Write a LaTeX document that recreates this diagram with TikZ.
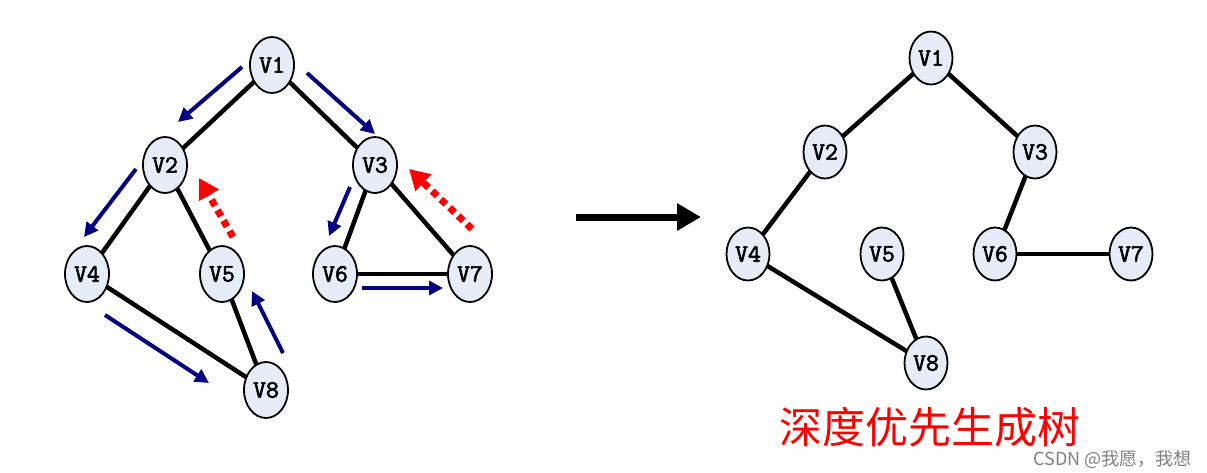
\documentclass[tikz,border=0pt]{standalone}
\usepackage{fontspec}
\newfontfamily\cjkfont{Noto Sans CJK SC}
\newfontfamily\vfont{Latin Modern Mono}[FakeBold=2.5]
\usetikzlibrary{shapes.geometric,arrows.meta}
\definecolor{nodefill}{HTML}{E6EDF8}
\definecolor{navyarrow}{HTML}{000080}
\pgfdeclarelayer{bg}
\pgfsetlayers{bg,main}
\begin{document}
\begin{tikzpicture}[x=1pt,y=-1pt,
  vert/.style={ellipse,draw=black,line width=1.8pt,fill=nodefill,minimum width=44pt,minimum height=56pt,inner sep=0pt,font=\vfont\fontsize{25}{25}\selectfont},
  vertr/.style={vert,minimum width=43pt,minimum height=53pt},
  edge/.style={line width=4.5pt,black},
  bluearr/.style={navyarrow,line width=4pt,-{Triangle[length=14pt,width=14pt]}},
  redarr/.style={red,line width=7pt,dash pattern=on 7pt off 5pt,-{Triangle[length=20pt,width=22pt]}}]
\useasboundingbox (0,0) rectangle (1207,472);
% left graph
\node[vert] (a1) at (272,65) {V1};
\node[vert] (a2) at (165,165) {V2};
\node[vert] (a3) at (375,165) {V3};
\node[vert] (a4) at (87,274) {V4};
\node[vert] (a5) at (222,274) {V5};
\node[vert] (a6) at (335,274) {V6};
\node[vert] (a7) at (470,274) {V7};
\node[vert] (a8) at (266,390) {V8};
\begin{pgfonlayer}{bg}
\draw[edge] (a1.center) -- (a2.center);
\draw[edge] (a1.center) -- (a3.center);
\draw[edge] (a2.center) -- (a4.center);
\draw[edge] (a2.center) -- (a5.center);
\draw[edge] (a3.center) -- (a6.center);
\draw[edge] (a3.center) -- (a7.center);
\draw[edge] (a6.center) -- (a7.center);
\draw[edge] (a4.center) -- (a8.center);
\draw[edge] (a5.center) -- (a8.center);
\end{pgfonlayer}
% traversal arrows
\coordinate (b1s) at (242,67);  \coordinate (b1e) at (178,122);
\coordinate (b2s) at (307,73);  \coordinate (b2e) at (375,134);
\coordinate (b3s) at (136,169); \coordinate (b3e) at (84,237);
\coordinate (b4s) at (350,187); \coordinate (b4e) at (329,236);
\coordinate (b5s) at (362,288); \coordinate (b5e) at (443,288);
\coordinate (b6s) at (105,315); \coordinate (b6e) at (209,383);
\coordinate (b7s) at (283,353); \coordinate (b7e) at (252,291);
\draw[bluearr] (b1s) -- (b1e);
\draw[bluearr] (b2s) -- (b2e);
\draw[bluearr] (b3s) -- (b3e);
\draw[bluearr] (b4s) -- (b4e);
\draw[bluearr] (b5s) -- (b5e);
\draw[bluearr] (b6s) -- (b6e);
\draw[bluearr] (b7s) -- (b7e);
\coordinate (r1s) at (233,237); \coordinate (r1e) at (199,178);
\coordinate (r2s) at (472,229); \coordinate (r2e) at (409,169);
\draw[redarr] (r1s) -- (r1e);
\draw[redarr] (r2s) -- (r2e);
% big arrow
\coordinate (ms) at (576,217); \coordinate (me) at (701,217);
\draw[line width=7pt,-{Triangle[length=24pt,width=26pt]}] (ms) -- (me);
% right graph (spanning tree)
\node[vertr] (c1) at (931,58) {V1};
\node[vertr] (c2) at (825,152) {V2};
\node[vertr] (c3) at (1035,152) {V3};
\node[vertr] (c4) at (748,254) {V4};
\node[vertr] (c5) at (882,254) {V5};
\node[vertr] (c6) at (995,254) {V6};
\node[vertr] (c7) at (1131,254) {V7};
\node[vertr] (c8) at (926,363) {V8};
\begin{pgfonlayer}{bg}
\draw[edge] (c1.center) -- (c2.center);
\draw[edge] (c1.center) -- (c3.center);
\draw[edge] (c2.center) -- (c4.center);
\draw[edge] (c3.center) -- (c6.center);
\draw[edge] (c6.center) -- (c7.center);
\draw[edge] (c4.center) -- (c8.center);
\draw[edge] (c5.center) -- (c8.center);
\end{pgfonlayer}
\node[font=\cjkfont\fontsize{43}{43}\selectfont,text=red,inner sep=0pt] (cap) at (930,427) {深度优先生成树};
\node[font=\cjkfont\fontsize{18}{18}\selectfont,text=gray,inner sep=0pt,anchor=east] (wm) at (1192,460) {CSDN @我愿，我想};
\end{tikzpicture}
\end{document}
